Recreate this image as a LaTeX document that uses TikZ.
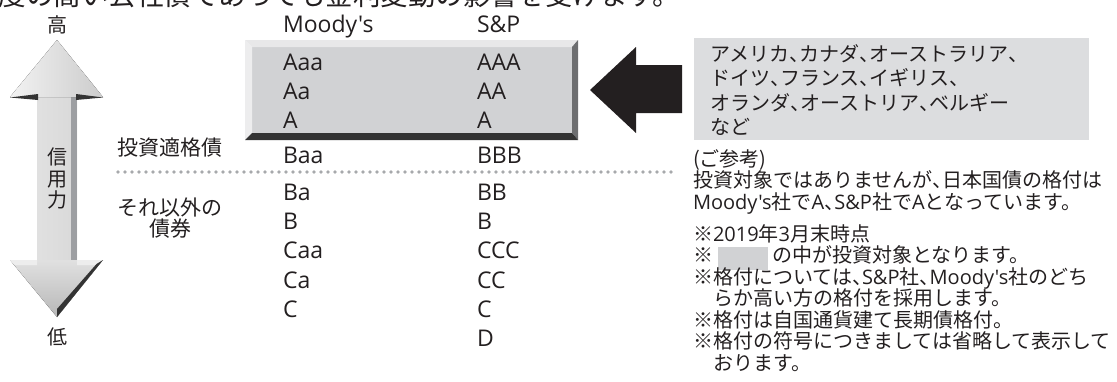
\documentclass[tikz,border=0pt]{standalone}
\usepackage{fontspec}
\setmainfont{Noto Sans CJK JP}
\newfontfamily\lat{Open Sans}
\newcommand\tn{\makebox[0.5em][l]{、}}
\definecolor{ink}{HTML}{231F20}
\definecolor{face}{HTML}{D1D2D4}
\definecolor{bevT}{HTML}{E8E8E9}
\definecolor{bevL}{HTML}{EDEDEE}
\definecolor{bevR}{HTML}{6D6E70}
\definecolor{bevB}{HTML}{333333}
\definecolor{gbox}{HTML}{DCDDDF}
\definecolor{dotc}{HTML}{A7A9AC}
\definecolor{arrS}{HTML}{9D9FA2}
\begin{document}
\begin{tikzpicture}[x=1pt,y=-1pt,
  every node/.style={inner sep=0pt,outer sep=0pt,text=ink},
  rate/.style={anchor=base west,font=\lat\fontsize{23}{27}\selectfont},
  jpl/.style={anchor=base west,font=\fontsize{21}{21.5}\selectfont},
  note/.style={anchor=base west,font=\fontsize{20}{21.5}\selectfont},
  hl/.style={anchor=base,font=\fontsize{20}{21.5}\selectfont}]
\useasboundingbox (0,0) rectangle (1117,381);
\clip (0,0) rectangle (1117,381);

% cropped heading line
\node[anchor=base west,font=\fontsize{27.5}{30}\selectfont] (hd) at (-1.5,5) {度の高い公社債であっても金利変動の影響を受けます。};

% double arrow
\fill[left color=white!88!black, middle color=white!96!black, right color=white!85!black] (37,96) rectangle (77,261);
\fill[arrS] (71,96) rectangle (77,261);
\fill[left color=white!95!black, right color=white!80!black] (57,40) -- (103,97) -- (10,97) -- cycle;
\fill[bevB] (10,97.5) -- (38,94) -- (38,100) -- cycle;
\fill[bevB] (76,94) -- (103,97.5) -- (76,100) -- cycle;
\fill[top color=white!88!black, bottom color=white!72!black] (10,260) -- (103,260) -- (57,317) -- cycle;
\fill[white!93!black] (10,260) -- (37,260) -- (37,265) -- (14.5,265) -- cycle;
\fill[white!93!black] (77,260) -- (103,260) -- (98.5,265) -- (77,265) -- cycle;
\fill[bevB] (103,260) -- (57,317) -- (57,309) -- (96.5,264) -- cycle;
\node[hl] (hi) at (57,32) {高};
\node[hl] (lo) at (57,344) {低};
\node[font=\fontsize{20}{21.5}\selectfont,align=center] (cr) at (57,178.5) {信\\用\\力};

% beveled box
\fill[face] (252,47) rectangle (572,133);
\fill[bevT] (245,40) -- (578,40) -- (572,47) -- (252,47) -- cycle;
\fill[bevL] (245,40) -- (252,47) -- (252,133) -- (245,140) -- cycle;
\fill[bevR] (578,40) -- (578,140) -- (572,133) -- (572,47) -- cycle;
\fill[bevB] (245,140) -- (578,140) -- (572,133) -- (252,133) -- cycle;

% big arrow
\fill[ink] (590,90) -- (636,47) -- (636,65) -- (682,65) -- (682,113) -- (636,113) -- (636,133) -- cycle;

% headers and ratings
\node[rate] (hm) at (283,32) {Moody's};
\node[rate] (hs) at (477,32) {S\&P};
\node[rate] (m1) at (283,70) {Aaa};
\node[rate] (m2) at (283,99) {Aa};
\node[rate] (m3) at (283,128) {A};
\node[rate] (m4) at (283,163) {Baa};
\node[rate] (m5) at (283,200) {Ba};
\node[rate] (m6) at (283,229) {B};
\node[rate] (m7) at (283,258) {Caa};
\node[rate] (m8) at (283,288) {Ca};
\node[rate] (m9) at (283,317) {C};
\node[rate] (s1) at (477,70) {AAA};
\node[rate] (s2) at (477,99) {AA};
\node[rate] (s3) at (477,128) {A};
\node[rate] (s4) at (477,163) {BBB};
\node[rate] (s5) at (477,200) {BB};
\node[rate] (s6) at (477,229) {B};
\node[rate] (s7) at (477,258) {CCC};
\node[rate] (s8) at (477,288) {CC};
\node[rate] (s9) at (477,317) {C};
\node[rate] (s10) at (477,346) {D};

% left labels
\node[jpl] (inv) at (117,155.5) {投資適格債};
\node[anchor=base,font=\fontsize{21}{21.5}\selectfont] (oth1) at (170,215) {それ以外の};
\node[anchor=base,font=\fontsize{21}{21.5}\selectfont] (oth2) at (170,236.5) {債券};

% dotted divider
\coordinate (d1) at (118,172);
\coordinate (d2) at (672,172);
\draw[dotc,line width=3.6pt,line cap=round,dash pattern=on 0pt off 7pt] (d1) -- (d2);

% country box
\fill[gbox] (694,38) rectangle (1089,140);
\node[note] (c1) at (710,61) {アメリカ\tn カナダ\tn オーストラリア\tn};
\node[note] (c2) at (710,85.5) {ドイツ\tn フランス\tn イギリス\tn};
\node[note] (c3) at (710,110) {オランダ\tn オーストリア\tn ベルギー};
\node[note] (c4) at (710,134) {など};

% notes
\node[note] (n1) at (693,166) {(ご参考)};
\node[note] (n2) at (693,187.5) {投資対象ではありませんが\tn 日本国債の格付は};
\node[note] (n3) at (693,209) {{\lat Moody's}社で{\lat A}\tn{\lat S\&P}社で{\lat A}となっています。};
\node[note] (n4) at (693,241) {※{\lat 2019}年{\lat 3}月末時点};
\node[note] (n5) at (693,262.5) {※};
\fill[face] (718,247) rectangle (768,270);
\node[note] (n5b) at (772,262.5) {の中が投資対象となります。};
\node[note] (n6) at (693,284) {※格付については\tn{\lat S\&P}社\tn{\lat Moody's}社のどち};
\node[note] (n7) at (713,305.5) {らか高い方の格付を採用します。};
\node[note] (n8) at (693,327) {※格付は自国通貨建て長期債格付。};
\node[note] (n9) at (693,348.5) {※格付の符号につきましては省略して表示して};
\node[note] (n10) at (713,370) {おります。};
\end{tikzpicture}
\end{document}
